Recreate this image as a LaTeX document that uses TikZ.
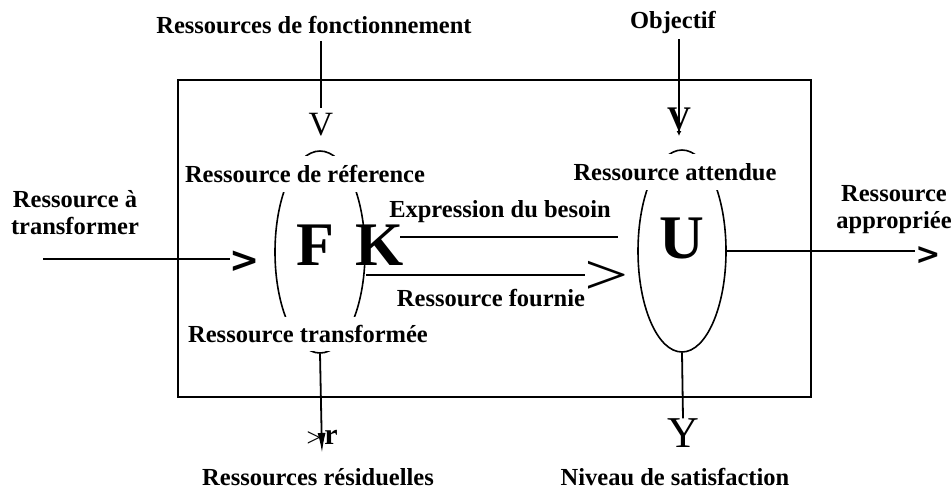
\documentclass[tikz,border=0pt]{standalone}
\usepackage{fontspec}
\setmainfont{Liberation Serif}
\newfontfamily\chevfont{DejaVu Sans}
\usetikzlibrary{arrows.meta,shapes.geometric}
\tikzset{
  wire/.style={line width=1.8pt, draw=black},
  frame/.style={
    draw=black, line width=2pt, inner sep=0pt,
    minimum width=633pt, minimum height=317pt
  },
  organ/.style={
    ellipse, draw=black, line width=1.6pt, inner sep=0pt
  },
  lbl/.style={
    font=\fontsize{24.5}{27}\selectfont\bfseries,
    align=center, inner sep=1pt
  },
  lblmask/.style={lbl, fill=white, inner ysep=9pt},
  bigletter/.style={font=\fontsize{62}{62}\selectfont\bfseries, inner sep=0pt},
  glyph/.style={inner sep=0pt},
  heavy/.style={glyph, font=\chevfont\bfseries\fontsize{#1}{#1}\selectfont}
}

\begin{document}
\begin{tikzpicture}[x=1pt, y=-1pt]
\useasboundingbox (0,0) rectangle (952,493);

%--------------------------------------------------
% System frame and the two organs
%--------------------------------------------------
\node[frame] (system) at (494.5,238.5) {};

\node[organ, minimum width=90pt, minimum height=202pt] (opF) at (320,252) {};
\node[organ, minimum width=88pt, minimum height=202pt] (opU) at (682,251) {};

%--------------------------------------------------
% Labels (masking the organ outlines)
%--------------------------------------------------
\node[lbl] (fonct) at (314,25) {Ressources de fonctionnement};
\node[lbl] (objectif) at (673,22) {Objectif};

\node[lblmask] (refer) at (305,174) {Ressource de réference};
\node[lblmask, inner ysep=8pt] (transf) at (308,334) {Ressource transformée};
\node[lblmask] (attendue) at (675,172) {Ressource attendue};

\node[lbl] (entree) at (75,213) {Ressource à\\transformer};
\node[lbl] (appro) at (894,210) {Ressource\\appropriée};

\node[lbl] (besoin) at (500,212) {Expression du besoin};
\node[lbl] (fournie) at (491,298) {Ressource fournie};

\node[lbl] (residu) at (318,477) {Ressources résiduelles};
\node[lbl] (satisf) at (675,477) {Niveau de satisfaction};

%--------------------------------------------------
% Letters inside the organs
%--------------------------------------------------
\node[bigletter] (letF) at (315,245) {F};
\node[bigletter] (letK) at (380,245) {K};
\node[bigletter] (letU) at (682,238) {U};

%--------------------------------------------------
% Glyph heads
%--------------------------------------------------
\node[glyph, font=\fontsize{34}{34}\selectfont] (vF) at (321,125) {V};
\node[glyph, font=\fontsize{33}{33}\selectfont\bfseries] (vU) at (679,119) {V};
\node[heavy=36] (gtIn) at (245,262) {>};
\node[glyph] (gtMid) at (607,278)
  {\scalebox{1.35}[1]{\fontsize{58}{58}\selectfont >}};
\node[heavy=30] (gtOut) at (928,256) {>};
\node[glyph, font=\fontsize{26}{26}\selectfont] (gtR) at (314,439) {>};
\node[glyph, font=\fontsize{30}{30}\selectfont\bfseries] (letR) at (331,437) {r};
\node[glyph, font=\fontsize{44}{44}\selectfont] (yOut) at (683,433) {Y};

%--------------------------------------------------
% Connectors
%--------------------------------------------------
\coordinate (inStart) at (43,259);
\coordinate (needA) at (400,237);
\coordinate (needB) at (618,237);
\coordinate (supplyA) at (366,275);
\coordinate (wasteEnd) at (322,453);

\draw[wire] ([yshift=-6pt]vF.north |- fonct.south) -- ([yshift=5pt]vF.north);
\draw[wire, -{Latex[length=5pt,width=5pt]}]
  ([yshift=-5pt]vU.center |- objectif.south) -- ([yshift=-17pt]vU.center);

\draw[wire] (inStart) -- (gtIn.west |- inStart);
\draw[wire] (needA) -- (needB);
\draw[wire] (supplyA) -- (gtMid.west |- supplyA);
\draw[wire] (opU.east) -- (gtOut.west |- opU.east);

\draw[wire, -{Latex[length=20pt,width=8pt]}] (opF.south) -- (wasteEnd);
\draw[wire] (opU.south) -- (yOut.north);

\end{tikzpicture}
\end{document}
